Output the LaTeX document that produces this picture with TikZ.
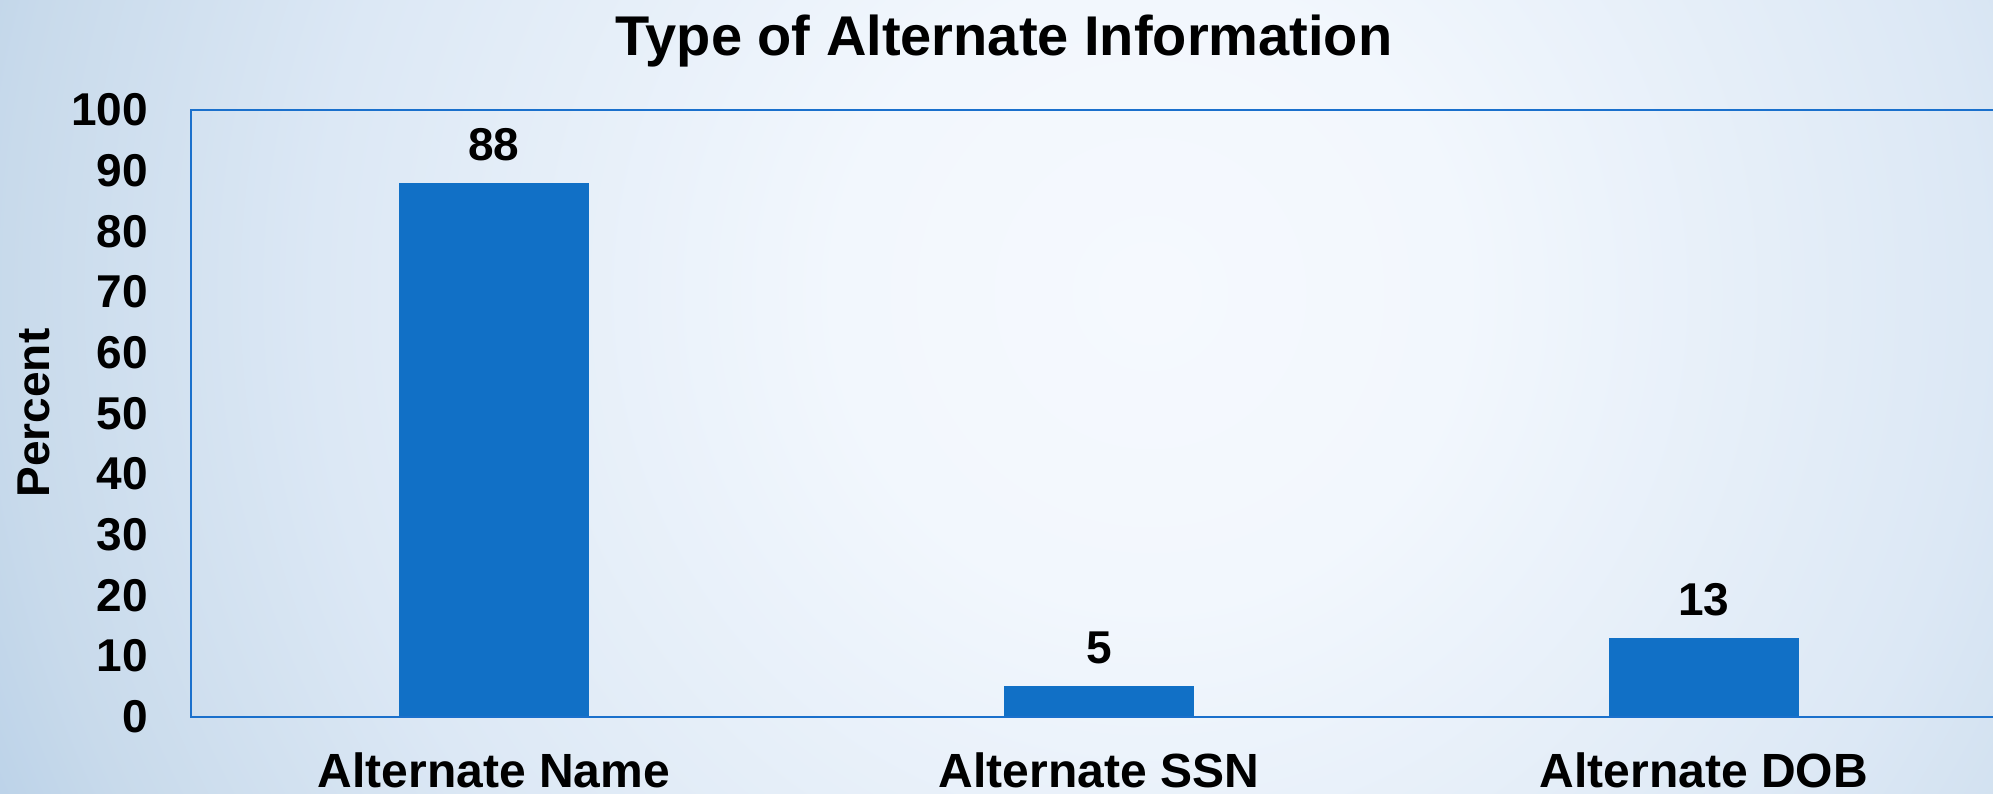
\documentclass[tikz,border=0pt]{standalone}
\usepackage{fontspec}
\setmainfont{Liberation Sans}
\definecolor{barblue}{HTML}{1170C6}
\definecolor{axblue}{HTML}{1A70CC}
\definecolor{bga}{HTML}{F5F9FE}
\definecolor{bgb}{HTML}{F2F7FD}
\definecolor{bgc}{HTML}{DCE8F5}
\definecolor{bgd}{HTML}{C8DAEB}
\definecolor{bge}{HTML}{B8D0E8}
\pgfdeclareradialshading{bgshade}{\pgfpoint{0bp}{0bp}}{color(0bp)=(bga); color(6bp)=(bgb); color(16bp)=(bgc); color(22bp)=(bgd); color(25bp)=(bge); color(50bp)=(bge)}
\begin{document}
\begin{tikzpicture}[x=1pt,y=1pt,
  bar/.style={fill=barblue,draw=none},
  ticklab/.style={anchor=east,font=\fontsize{46}{50}\selectfont\bfseries,inner sep=0pt},
  vallab/.style={anchor=center,font=\fontsize{46}{50}\selectfont\bfseries,inner sep=0pt},
  catlab/.style={anchor=base,font=\fontsize{48}{52}\selectfont\bfseries,inner sep=0pt},
  axline/.style={draw=axblue,line width=2pt}]
\useasboundingbox (0,0) rectangle (1993,793);
\begin{scope}
\clip (0,0) rectangle (1993,793);
\shade[shading=bgshade] (-150,-800) rectangle (2450,1800);
\end{scope}
% title
\node[anchor=base,font=\fontsize{56}{60}\selectfont\bfseries,inner sep=0pt] (title) at (1004,737) {Type of Alternate Information};
% plot frame
\coordinate (bl) at (190.7,76.5);
\coordinate (tl) at (190.7,683);
\coordinate (br) at (1993,76.5);
\coordinate (tr) at (1993,683);
% bars
\fill[bar] (399,76.5) rectangle (588.6,610.2);
\fill[bar] (1004,76.5) rectangle (1193.6,106.8);
\fill[bar] (1609,76.5) rectangle (1798.6,155.3);
\draw[axline] (br) -- (bl) -- (tl) -- (tr);
% tick labels
\foreach \v in {0,10,...,100}{
  \node[ticklab] (t\v) at (148,{76.5+\v*6.065}) {\v};
}
% value labels
\node[vallab] (v1) at (493.8,648.2) {88};
\node[vallab] (v2) at (1098.8,144.8) {5};
\node[vallab] (v3) at (1703.8,193.3) {13};
% category labels
\node[catlab] (c1) at (493.8,6) {Alternate Name};
\node[catlab] (c2) at (1098.8,6) {Alternate SSN};
\node[catlab] (c3) at (1703.8,6) {Alternate DOB};
% axis title
\node[rotate=90,font=\fontsize{46}{50}\selectfont\bfseries,inner sep=0pt] (ylab) at (34,380) {Percent};
\end{tikzpicture}
\end{document}
